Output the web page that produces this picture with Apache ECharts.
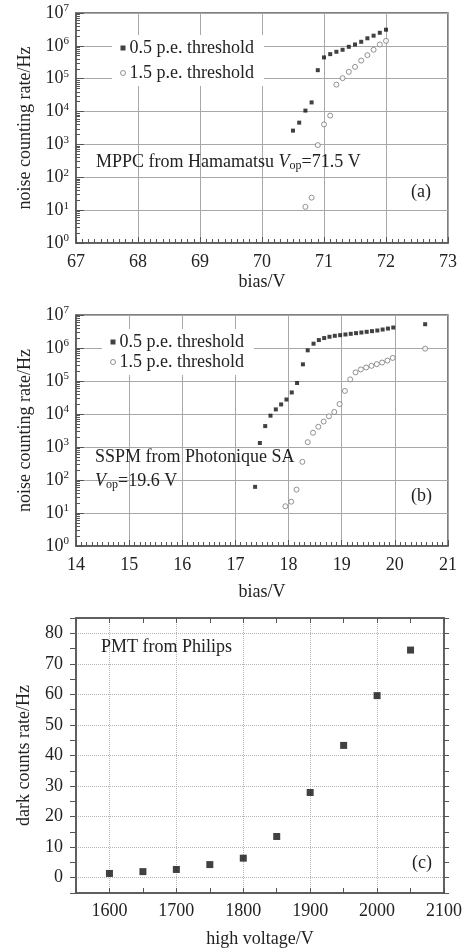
<!DOCTYPE html>
<html><head><meta charset="utf-8">
<script src="https://cdn.jsdelivr.net/npm/echarts@6/dist/echarts.min.js"></script>
<style>html,body{margin:0;padding:0;background:#fff}#c{width:465px;height:949px}</style>
</head><body><div id="c"></div>
<script>
// ---- Panel (a): MPPC from Hamamatsu ----
const biasA_low = [70.5,70.6,70.7,70.8,70.9,71.0,71.1,71.2,71.3,71.4,71.5,71.6,71.7,71.8,71.9,72.0];
const rateA_low = [2630,4600,10700,19000,182000,445000,560000,660000,760000,935000,1100000,1330000,1700000,2040000,2500000,3100000];
const biasA_high = [70.7,70.8,70.9,71.0,71.1,71.2,71.3,71.4,71.5,71.6,71.7,71.8,71.9,72.0];
const rateA_high = [12.6,24,955,4070,7550,66000,104000,162000,229000,357000,522000,760000,1100000,1420000];
// ---- Panel (b): SSPM from Photonique SA ----
const biasB_low = [17.37,17.46,17.56,17.66,17.76,17.86,17.96,18.06,18.16,18.27,18.36,18.47,18.57,18.67,18.77,18.87,18.97,19.07,19.17,19.27,19.37,19.47,19.57,19.67,19.77,19.87,19.97,20.57];
const rateB_low = [62,1320,4300,8900,13800,19500,27500,45000,87000,320000,850000,1350000,1740000,2000000,2190000,2340000,2450000,2570000,2690000,2820000,2950000,3090000,3240000,3390000,3630000,3890000,4170000,5250000];
const biasB_high = [17.94,18.05,18.15,18.26,18.36,18.46,18.56,18.66,18.76,18.86,18.96,19.06,19.16,19.26,19.36,19.46,19.56,19.66,19.76,19.86,19.96,20.57];
const rateB_high = [16,22,51,355,1400,2700,4100,5900,8500,11500,20000,50000,112000,182000,224000,257000,288000,324000,363000,417000,501000,955000];
// ---- Panel (c): PMT from Philips ----
const hvC = [1600,1650,1700,1750,1800,1850,1900,1950,2000,2050];
const darkC = [1.4,2.0,2.7,4.3,6.4,13.5,27.9,43.3,59.6,74.5];
// tick labels
const expTicks = [0,1,2,3,4,5,6,7];

const FF = 'Liberation Serif';
const FS = 18;
const TXT = '#222';
const AX = '#555';
const GRID = '#a8a8a8';
const zip = (xs, ys) => xs.map((x, i) => [x, ys[i]]);

const supRich = {
  b: {fontFamily: FF, fontSize: FS, color: TXT, lineHeight: 20},
  s: {fontFamily: FF, fontSize: 11, color: TXT, verticalAlign: 'top', lineHeight: 20, padding: [0,0,8,0]}
};
function logAxis(gi, name) {
  return {
    type: 'log', logBase: 10, gridIndex: gi, min: 1, max: 1e7,
    name: name, nameLocation: 'middle', nameGap: 42, nameRotate: 90,
    nameTextStyle: {fontFamily: FF, fontSize: FS, color: TXT},
    axisLine: {show: true, lineStyle: {color: AX, width: 1.5}},
    axisTick: {show: true, inside: true, length: 8, lineStyle: {color: AX}},
    minorTick: {show: true, splitNumber: 9, length: 4, lineStyle: {color: AX}},
    splitLine: {show: true, lineStyle: {color: GRID, width: 1}},
    axisLabel: {margin: 7, formatter: v => '{b|10}{s|' + expTicks[Math.round(Math.log10(v))] + '}', rich: supRich}
  };
}
function biasAxis(gi, mn, mx, gap) {
  return {
    type: 'value', gridIndex: gi, min: mn, max: mx, interval: 1,
    name: 'bias/V', nameLocation: 'middle', nameGap: gap,
    nameTextStyle: {fontFamily: FF, fontSize: FS, color: TXT},
    axisLine: {show: true, onZero: false, lineStyle: {color: AX, width: 1.5}},
    axisTick: {show: true, inside: true, length: 6, lineStyle: {color: AX}},
    minorTick: {show: true, splitNumber: 10, length: 4, lineStyle: {color: AX}},
    splitLine: {show: true, lineStyle: {color: GRID, width: 1}},
    axisLabel: {margin: 10, fontFamily: FF, fontSize: FS, color: TXT}
  };
}

const lowStyle = {symbol: 'rect', symbolSize: 4, itemStyle: {color: '#111'}};
const highStyle = {symbol: 'circle', symbolSize: 5, itemStyle: {color: '#fff', borderColor: '#777', borderWidth: 1}};
const legendData = [
  {name: '0.5 p.e. threshold', icon: 'rect', itemStyle: {color: '#111'}},
  {name: '1.5 p.e. threshold', icon: 'circle', itemStyle: {color: '#fff', borderColor: '#777', borderWidth: 1}}
];
const legendBase = {
  orient: 'vertical', itemWidth: 5, itemHeight: 5, itemGap: 7, itemStyle: {},
  backgroundColor: '#fff', padding: [4, 10, 4, 8], selectedMode: false,
  textStyle: {fontFamily: FF, fontSize: FS, color: TXT, padding: [0,0,0,-1]},
  data: legendData
};

const ann = (text, left, top) => ({
  text: text, left: left, top: top, padding: 0,
  textStyle: {fontFamily: FF, fontSize: FS, fontWeight: 'normal', color: TXT,
    rich: {
      a: {fontFamily: FF, fontSize: FS, color: TXT},
      i: {fontFamily: FF, fontSize: FS, color: TXT, fontStyle: 'italic'},
      o: {fontFamily: FF, fontSize: 12, color: TXT, verticalAlign: 'bottom', padding: [8,0,0,0]}
    }}
});

const option = {
  animation: false,
  backgroundColor: '#fff',
  title: [
    ann('{a|MPPC from Hamamatsu }{i|V}{o|op}{a|=71.5 V}', 96, 152),
    ann('{a|(a)}', 411, 183),
    ann('{a|SSPM from Photonique SA}', 95, 448),
    ann('{i|V}{o|op}{a|=19.6 V}', 95, 471),
    ann('{a|(b)}', 411, 487),
    ann('{a|PMT from Philips}', 101, 638),
    ann('{a|(c)}', 412, 854)
  ],
  legend: [
    Object.assign({}, legendBase, {left: 112, top: 35}),
    Object.assign({}, legendBase, {left: 102, top: 329, itemGap: 2})
  ],
  grid: [
    {left: 76, right: 17, top: 13, height: 230, show: true, borderColor: AX, borderWidth: 1.5},
    {left: 76, right: 17, top: 315, height: 231, show: true, borderColor: AX, borderWidth: 1.5},
    {left: 76, right: 17, top: 618, height: 275, show: true, borderColor: AX, borderWidth: 1.5}
  ],
  xAxis: [
    biasAxis(0, 67, 73, 30),
    biasAxis(1, 14, 21, 37),
    {
      type: 'value', gridIndex: 2, min: 1550, max: 2100, interval: 50,
      name: 'high voltage/V', nameLocation: 'middle', nameGap: 37,
      nameTextStyle: {fontFamily: FF, fontSize: FS, color: TXT},
      axisLine: {show: true, onZero: false, lineStyle: {color: AX, width: 1.5}},
      axisTick: {show: true, inside: true, length: 5, lineStyle: {color: AX}},
      splitLine: {show: true, lineStyle: {color: ['rgba(0,0,0,0)', '#b5b5b5'], type: 'dotted', width: 1}},
      axisLabel: {margin: 9, fontFamily: FF, fontSize: FS, color: TXT,
        formatter: v => (v % 100 === 0 ? String(v) : '')}
    },
    {
      type: 'value', gridIndex: 2, min: 1550, max: 2100, interval: 50, position: 'top',
      axisLine: {show: true, onZero: false, lineStyle: {color: AX, width: 1.5}},
      axisTick: {show: true, inside: true, length: 5, lineStyle: {color: AX}},
      splitLine: {show: false}, axisLabel: {show: false}
    }
  ],
  yAxis: [
    logAxis(0, 'noise counting rate/Hz'),
    logAxis(1, 'noise counting rate/Hz'),
    {
      type: 'value', gridIndex: 2, min: -5, max: 85, interval: 5,
      name: 'dark counts rate/Hz', nameLocation: 'middle', nameGap: 43, nameRotate: 90,
      nameTextStyle: {fontFamily: FF, fontSize: FS, color: TXT},
      axisLine: {show: true, onZero: false, lineStyle: {color: AX, width: 1.5}},
      axisTick: {show: true, inside: false, length: 6, lineStyle: {color: AX}},
      splitLine: {show: true, lineStyle: {color: ['rgba(0,0,0,0)', '#b5b5b5'], type: 'dotted', width: 1}},
      axisLabel: {margin: 13, fontFamily: FF, fontSize: FS, color: TXT,
        formatter: v => (v % 10 === 0 ? String(v) : '')}
    },
    {
      type: 'value', gridIndex: 2, min: -5, max: 85, interval: 5, position: 'right',
      axisLine: {show: true, onZero: false, lineStyle: {color: AX, width: 1.5}},
      axisTick: {show: true, inside: false, length: 5, lineStyle: {color: AX}},
      splitLine: {show: false}, axisLabel: {show: false}
    }
  ],
  series: [
    Object.assign({type: 'scatter', name: '0.5 p.e. threshold', xAxisIndex: 0, yAxisIndex: 0, data: zip(biasA_low, rateA_low)}, lowStyle),
    Object.assign({type: 'scatter', name: '1.5 p.e. threshold', xAxisIndex: 0, yAxisIndex: 0, data: zip(biasA_high, rateA_high)}, highStyle),
    Object.assign({type: 'scatter', name: '0.5 p.e. threshold', xAxisIndex: 1, yAxisIndex: 1, data: zip(biasB_low, rateB_low)}, lowStyle),
    Object.assign({type: 'scatter', name: '1.5 p.e. threshold', xAxisIndex: 1, yAxisIndex: 1, data: zip(biasB_high, rateB_high)}, highStyle),
    {type: 'scatter', name: 'PMT', xAxisIndex: 2, yAxisIndex: 2, symbol: 'rect', symbolSize: 7,
      itemStyle: {color: '#111'}, data: zip(hvC, darkC)}
  ]
};
const chart = echarts.init(document.getElementById('c'), null, {renderer: 'canvas'});
chart.setOption(option);
</script>
</body></html>
